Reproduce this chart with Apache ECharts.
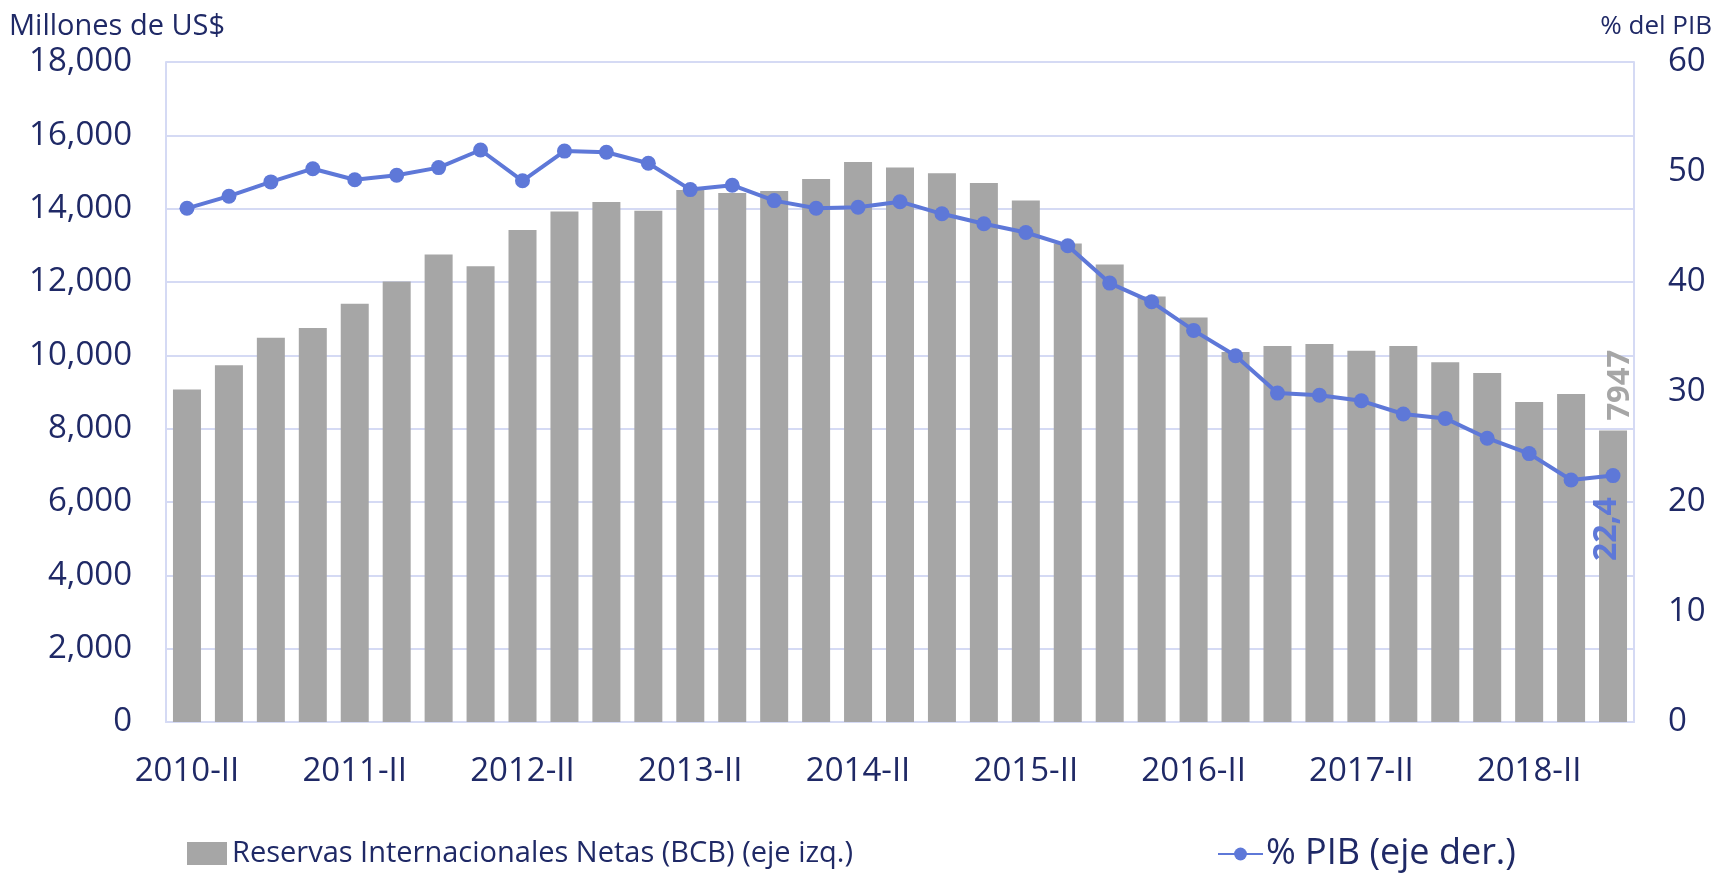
<!DOCTYPE html>
<html>
<head>
<meta charset="utf-8">
<script src="https://cdn.jsdelivr.net/npm/echarts@6/dist/echarts.min.js"></script>
<style>
  html, body { margin: 0; padding: 0; background: #fff; }
  #chart { width: 1715px; height: 874px; }
</style>
</head>
<body>
<div id="chart"></div>
<script>
// quarters 2010-II .. 2018-IV
var years = ['2010', '2011', '2012', '2013', '2014', '2015', '2016', '2017', '2018']
var quarters = ['I', 'II', 'III', 'IV']
var categories = []
years.forEach(function (y) {
  quarters.forEach(function (q) { categories.push(y + '-' + q) })
})
categories = categories.slice(1)

// Reservas Internacionales Netas (BCB), millones de US$
var reservas = [
  9065, 9730, 10480, 10745, 11405, 12015, 12750, 12430, 13420, 13920,
  14185, 13945, 14510, 14430, 14485, 14810, 15270, 15120, 14965, 14700,
  14220, 13050, 12480, 11605, 11035, 10090, 10255, 10310, 10125, 10255,
  9810, 9520, 8730, 8945, 7947
]
// % PIB
var pib = [
  46.7, 47.8, 49.1, 50.3, 49.3, 49.7, 50.4, 52.0, 49.2, 51.9,
  51.8, 50.8, 48.4, 48.8, 47.4, 46.7, 46.8, 47.3, 46.2, 45.3,
  44.5, 43.3, 39.9, 38.2, 35.6, 33.3, 29.9, 29.7, 29.2, 28.0,
  27.6, 25.8, 24.4, 22.0, 22.4
]

var navy = '#1f2966'
var blue = '#5e78d8'
var gray = '#a6a6a6'
var gridCol = '#d5daf4'
var font = '"Open Sans", sans-serif'

// labels are rotated 90deg, so offset [a, b] moves them up by a and right by b
var last = reservas.length - 1
var barData = reservas.map(function (v, i) {
  if (i !== last) return v
  return {
    value: v,
    label: {
      show: true, position: 'top', rotate: 90, distance: 10, offset: [0, 7],
      align: 'left', verticalAlign: 'middle',
      color: gray, fontWeight: 'bold', fontSize: 31, fontFamily: font,
      formatter: '7947'
    }
  }
})
var lineData = pib.map(function (v, i) {
  if (i !== last) return v
  return {
    value: v,
    label: {
      show: true, position: 'bottom', rotate: 90, distance: 14, offset: [0, -6],
      align: 'right', verticalAlign: 'middle',
      color: blue, fontWeight: 'bold', fontSize: 32, fontFamily: font,
      formatter: '22,4'
    }
  }
})

var myChart = echarts.init(document.getElementById('chart'))
var option = {
  animation: false,
  textStyle: { fontFamily: font },
  grid: { left: 166, right: 81, top: 62, bottom: 152 },
  graphic: [
    { type: 'text', x: 9, y: 27, style: { text: 'Millones de US$', fill: navy, fontSize: 29, fontFamily: font, verticalAlign: 'middle' } },
    { type: 'text', x: 1712, y: 27, style: { text: '% del PIB', fill: navy, fontSize: 26, fontFamily: font, align: 'right', verticalAlign: 'middle' } }
  ],
  legend: [
    {
      left: 187, top: 839, padding: 0, itemWidth: 40, itemHeight: 23,
      data: [{ name: 'Reservas Internacionales Netas (BCB) (eje izq.)', icon: 'rect' }],
      textStyle: { color: navy, fontSize: 29, fontFamily: font }
    },
    {
      left: 1217, top: 836, padding: 0, itemWidth: 45, itemHeight: 16,
      data: ['% PIB (eje der.)'],
      textStyle: { color: navy, fontSize: 36, fontFamily: font, padding: [0, 0, 0, -2] }
    }
  ],
  xAxis: {
    type: 'category',
    data: categories,
    axisTick: { show: false },
    axisLine: { lineStyle: { color: gridCol, width: 2 } },
    axisLabel: { interval: 3, color: navy, fontSize: 33, margin: 33 }
  },
  yAxis: [
    {
      type: 'value', min: 0, max: 18000, interval: 2000,
      axisLine: { show: true, lineStyle: { color: gridCol, width: 2 } },
      splitLine: { lineStyle: { color: gridCol, width: 2 } },
      axisLabel: {
        color: navy, fontSize: 33, margin: 34,
        formatter: function (v) { return v.toLocaleString('en-US') }
      }
    },
    {
      type: 'value', min: 0, max: 60, interval: 10,
      axisLine: { show: true, lineStyle: { color: gridCol, width: 2 } },
      splitLine: { show: false },
      axisLabel: { color: navy, fontSize: 33, margin: 34 }
    }
  ],
  series: [
    {
      name: 'Reservas Internacionales Netas (BCB) (eje izq.)',
      type: 'bar',
      data: barData,
      barWidth: 28,
      itemStyle: { color: gray }
    },
    {
      name: '% PIB (eje der.)',
      type: 'line',
      yAxisIndex: 1,
      data: lineData,
      symbol: 'circle',
      symbolSize: 15,
      lineStyle: { color: blue, width: 4 },
      itemStyle: { color: blue }
    }
  ]
}
myChart.setOption(option)
</script>
</body>
</html>
